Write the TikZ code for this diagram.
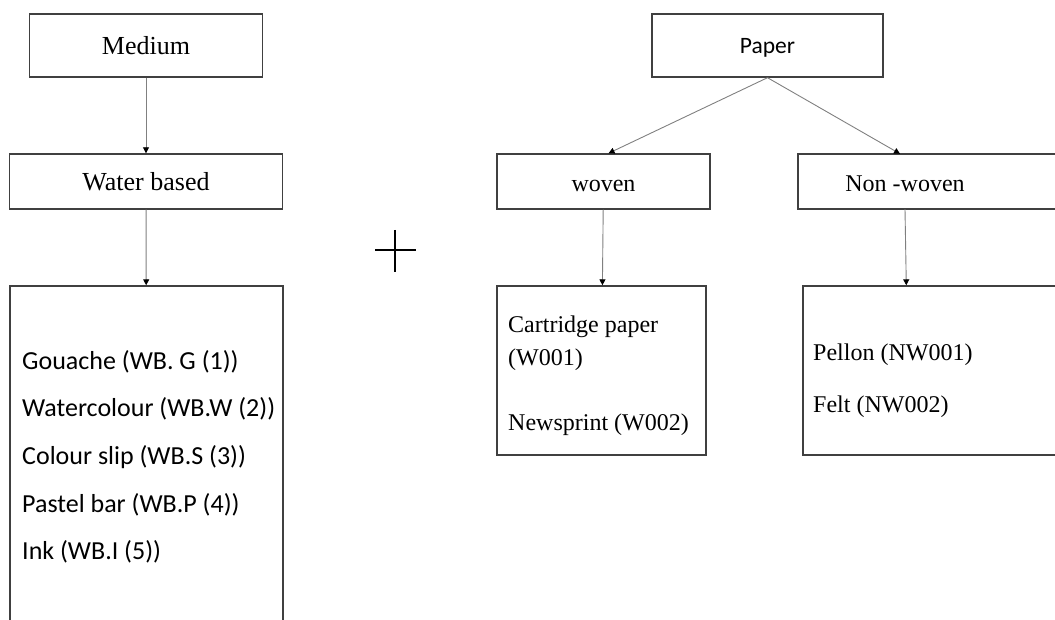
\documentclass[tikz,border=0pt]{standalone}
\usepackage{fontspec}
\setmainfont{Liberation Serif}
\newfontfamily\calibri{Carlito}
\usetikzlibrary{arrows.meta,calc}
\definecolor{boxgrey}{rgb}{0.25,0.25,0.25}
\definecolor{linegrey}{rgb}{0.5,0.5,0.5}

\tikzset{
    box/.style={draw=boxgrey,line width=1.4pt,inner sep=0pt},
    arr/.style={draw=linegrey,line width=0.9pt,
        -{Triangle[length=6pt,width=6pt,color=black]}},
    big/.style={font=\fontsize{26pt}{30pt}\selectfont,
        text height=19pt,text depth=0pt},
    small/.style={font=\fontsize{24pt}{29pt}\selectfont},
    boxlabel/.style={small,text height=20pt,text depth=0pt},
    list/.style={font=\calibri\fontsize{26pt}{30pt}\selectfont,
        anchor=base west,inner sep=0pt}
}

\begin{document}
\begin{tikzpicture}[x=1pt,y=-1pt]

    % Page is 1055 x 620, one unit per pixel.
    \useasboundingbox (0,0) rectangle (1055,620);
    \clip (0,0) rectangle (1055,620);

    % Medium side
    \node[box,big,minimum width=233pt,minimum height=63pt] (medium)
        at (146,45.5) {Medium};
    \node[box,big,minimum width=273pt,minimum height=55pt] (water)
        at (146,181.5) {Water based};
    \node[box,minimum width=273pt,minimum height=360pt] (listbox)
        at (146.5,466) {};
    \foreach \name/\txt [count=\i from 0] in
        {gouache/Gouache (WB. G (1)),watercolour/Watercolour (WB.W (2)),
         slip/Colour slip (WB.S (3)),pastel/Pastel bar (WB.P (4)),
         ink/Ink (WB.I (5))}
        \node[list] (\name) at (22,369+47.7*\i) {\txt};

    \draw[arr] (medium) -- (water);
    \draw[arr] (water) -- (listbox);

    % the plus
    \draw[line width=2.6pt] (375,250) -- (416,250);
    \draw[line width=2.6pt] (395,230) -- (395,272);

    % Paper side
    \node[box,font=\calibri\fontsize{23.5pt}{28pt}\selectfont,
        text height=17pt,text depth=0pt,
        minimum width=231pt,minimum height=63pt] (paper) at (767.5,45.5) {Paper};
    \node[box,boxlabel,minimum width=213pt,minimum height=55pt] (woven)
        at (603.5,181.5) {woven};
    % Non-woven box runs off the right edge
    \node[box,minimum width=272pt,minimum height=55pt] (nwbox) at (934,181.5) {};
    \node[boxlabel,inner sep=0pt,minimum height=55pt] (nonwoven)
        at (905,181.5) {Non -woven};

    \node[box,minimum width=209pt,minimum height=169pt] (cartridge)
        at (601.5,370.5) {};
    \node[small,anchor=base west,inner sep=0pt] (cartA) at (508,333) {Cartridge paper};
    \node[small,anchor=base west,inner sep=0pt] (cartB) at (508,365) {(W001)};
    \node[small,anchor=base west,inner sep=0pt] (news) at (508,430) {Newsprint (W002)};

    \node[box,minimum width=267pt,minimum height=169pt] (pellon)
        at (936.5,370.5) {};
    \node[small,anchor=base west,inner sep=0pt] (pellonA) at (813,360) {Pellon (NW001)};
    \node[small,anchor=base west,inner sep=0pt] (felt) at (813,412.7) {Felt (NW002)};

    \draw[arr] (paper.south) -- ($(woven.north)+(5,0)$);
    \draw[arr] (paper.south) -- ($(nonwoven.north)+(-5,0)$);
    \draw[arr] (woven) -- (cartridge);
    \draw[arr] (nonwoven.south) -- ($(pellon.north west)+(104,0)$);

\end{tikzpicture}
\end{document}
